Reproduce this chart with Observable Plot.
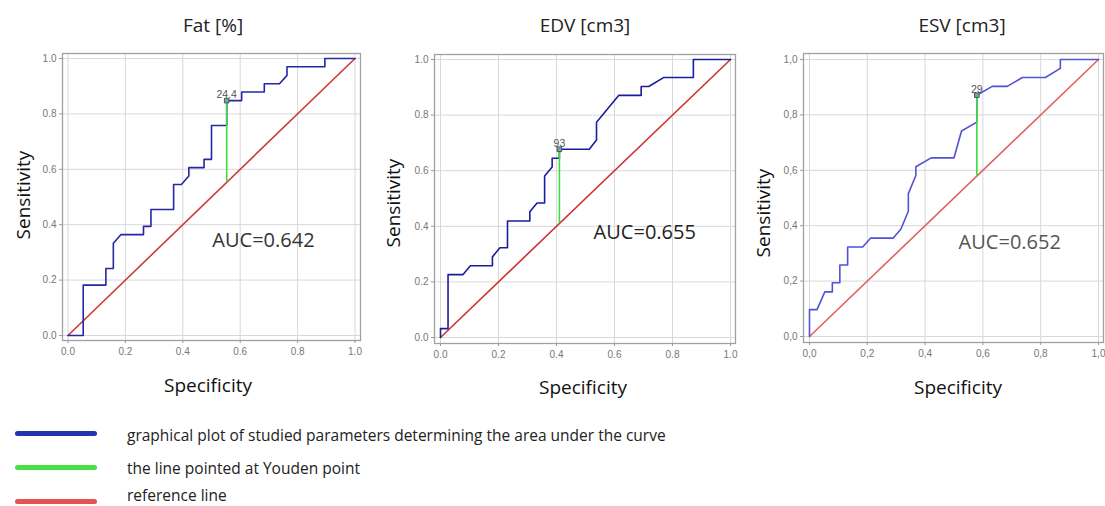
<!DOCTYPE html>
<html>
<head>
<meta charset="utf-8">
<script src="https://cdn.jsdelivr.net/npm/d3@7"></script>
<script src="https://cdn.jsdelivr.net/npm/@observablehq/plot@0.6"></script>
<style>
  html, body { margin: 0; padding: 0; background: #fff; }
  #root { position: relative; width: 1105px; height: 506px; overflow: hidden; background: #fff; font-family: "Open Sans", sans-serif; }
  .panel { position: absolute; top: 40px; }
  .title { position: absolute; transform: translate(-50%, -50%); font-size: 19px; color: #222; white-space: nowrap; }
  .xlab { position: absolute; transform: translate(-50%, -50%); font-size: 19px; color: #111; white-space: nowrap; }
  .ylab { position: absolute; transform: translate(-50%, -50%) rotate(-90deg); font-size: 19px; color: #111; white-space: nowrap; }
  .leg-line { position: absolute; left: 15px; width: 82px; height: 5px; border-radius: 3px; }
  .leg-text { position: absolute; left: 127px; transform: translateY(-50%); font-size: 15.5px; line-height: 18px; color: #222; white-space: nowrap; }
</style>
</head>
<body>
<div id="root"></div>
<script>
// ---- data ----
const panelTitles = ["Fat [%]", "EDV [cm3]", "ESV [cm3]"];
const aucLabels = ["AUC=0.642", "AUC=0.655", "AUC=0.652"];
const xAxisTitle = "Specificity";
const yAxisTitle = "Sensitivity";
const tickValues = [0, 0.2, 0.4, 0.6, 0.8, 1.0];

const fatSpec = [0, 0.053, 0.053, 0.132, 0.132, 0.158, 0.158, 0.184, 0.263, 0.263, 0.289, 0.289, 0.368, 0.368, 0.395, 0.421, 0.421, 0.474, 0.474, 0.5, 0.5, 0.553, 0.553, 0.605, 0.605, 0.684, 0.684, 0.737, 0.763, 0.763, 0.895, 0.895, 1];
const fatSens = [0, 0, 0.182, 0.182, 0.242, 0.242, 0.333, 0.364, 0.364, 0.394, 0.394, 0.455, 0.455, 0.545, 0.545, 0.576, 0.606, 0.606, 0.636, 0.636, 0.758, 0.758, 0.848, 0.848, 0.879, 0.879, 0.909, 0.909, 0.939, 0.970, 0.970, 1, 1];

const edvSpec = [0, 0, 0.026, 0.026, 0.077, 0.103, 0.179, 0.179, 0.205, 0.231, 0.231, 0.308, 0.308, 0.333, 0.359, 0.359, 0.385, 0.385, 0.410, 0.410, 0.513, 0.538, 0.538, 0.615, 0.692, 0.692, 0.718, 0.769, 0.872, 0.872, 1];
const edvSens = [0, 0.032, 0.032, 0.226, 0.226, 0.258, 0.258, 0.290, 0.323, 0.323, 0.419, 0.419, 0.452, 0.484, 0.484, 0.581, 0.613, 0.645, 0.645, 0.677, 0.677, 0.710, 0.774, 0.871, 0.871, 0.903, 0.903, 0.935, 0.935, 1, 1];

const esvSpec = [0, 0, 0.026, 0.053, 0.079, 0.079, 0.105, 0.105, 0.132, 0.132, 0.184, 0.211, 0.289, 0.316, 0.342, 0.342, 0.368, 0.368, 0.421, 0.5, 0.526, 0.579, 0.579, 0.632, 0.684, 0.737, 0.816, 0.868, 0.868, 1];
const esvSens = [0, 0.097, 0.097, 0.161, 0.161, 0.194, 0.194, 0.258, 0.258, 0.323, 0.323, 0.355, 0.355, 0.387, 0.452, 0.516, 0.581, 0.613, 0.645, 0.645, 0.742, 0.774, 0.871, 0.903, 0.903, 0.935, 0.935, 0.968, 1, 1];

const youdenSpec = [0.553, 0.410, 0.579];
const youdenSens = [0.848, 0.677, 0.871];
const youdenCut = ["24.4", "93", "29"];

const refSpec = [0, 1];
const refSens = [0, 1];

const legendLabels = [
  "graphical plot of studied parameters determining the area under the curve",
  "the line pointed at Youden point",
  "reference line"
];

// ---- layout / styles ----
const layouts = [
  {left: 0,   width: 370, mL: 62, mR: 10, mT: 13, mB: 60, iL: 5.5, iR: 5.5, iT: 5, iB: 5,
   curve: "#2626a6", ref: "#cc3b3b", text: "#333", dec: ".", aucX: 0.503, aucY: 0.343,
   title: [213, 25], xlab: [208, 385], ylab: [23, 195]},
  {left: 370, width: 370, mL: 64, mR: 5,  mT: 14, mB: 57, iL: 6, iR: 5, iT: 5, iB: 6,
   curve: "#1c1c9e", ref: "#cc3333", text: "#222", dec: ".", aucX: 0.528, aucY: 0.377,
   title: [585, 25], xlab: [583, 387], ylab: [393, 203]},
  {left: 740, width: 365, mL: 63, mR: 2,  mT: 13, mB: 58, iL: 6, iR: 5, iT: 6, iB: 6,
   curve: "#5252d6", ref: "#e06262", text: "#555", dec: ",", aucX: 0.516, aucY: 0.339,
   title: [962, 25], xlab: [958, 387], ylab: [763, 213]}
];

const curves = [[fatSpec, fatSens], [edvSpec, edvSens], [esvSpec, esvSens]];
const root = document.getElementById("root");

curves.forEach(([xs, ys], i) => {
  const L = layouts[i];
  const pts = xs.map((x, j) => ({x, y: ys[j]}));
  const ref = refSpec.map((x, j) => ({x, y: refSens[j]}));
  const yd = [{x: youdenSpec[i], y: youdenSens[i], r: youdenSpec[i], label: youdenCut[i]}];
  const fmt = d => d3.format(".1f")(d).replace(".", L.dec);
  const chart = Plot.plot({
    width: L.width, height: 360,
    marginLeft: L.mL, marginRight: L.mR, marginTop: L.mT, marginBottom: L.mB,
    x: {domain: [0, 1], insetLeft: L.iL, insetRight: L.iR},
    y: {domain: [0, 1], insetTop: L.iT, insetBottom: L.iB},
    style: {fontFamily: "Liberation Sans, Arial, sans-serif", fontSize: "10px", color: "#777", background: "transparent"},
    marks: [
      Plot.gridX(tickValues, {stroke: "#d8d8d8", strokeOpacity: 1}),
      Plot.gridY(tickValues, {stroke: "#d8d8d8", strokeOpacity: 1}),
      Plot.frame({stroke: "#a0a0a0", strokeWidth: 1.3}),
      Plot.axisX(tickValues, {tickSize: 3, tickPadding: 4, tickFormat: fmt, label: null, stroke: "#999"}),
      Plot.axisY(tickValues, {tickSize: 3, tickPadding: 3, tickFormat: fmt, label: null, stroke: "#999"}),
      Plot.line(ref, {x: "x", y: "y", stroke: L.ref, strokeWidth: 1.6}),
      Plot.line(pts, {x: "x", y: "y", stroke: L.curve, strokeWidth: 1.6, curve: "linear"}),
      Plot.ruleX(yd, {x: "x", y1: "r", y2: "y", stroke: "#3ddc3d", strokeWidth: 1.6}),
      Plot.dot(yd, {x: "x", y: "y", symbol: "square", r: 2.6, stroke: "#3b5b6b", fill: "#7aa68a", strokeWidth: 1}),
      Plot.text(yd, {x: "x", y: "y", text: "label", dy: -6, fill: "#555", fontSize: 10.5}),
      Plot.text([aucLabels[i]], {x: L.aucX, y: L.aucY, text: d => d, textAnchor: "start", fill: L.text, fontSize: 20, fontFamily: "Open Sans, sans-serif"})
    ]
  });
  chart.classList.add("panel");
  chart.style.left = L.left + "px";
  root.appendChild(chart);

  const t = document.createElement("div");
  t.className = "title"; t.textContent = panelTitles[i];
  t.style.left = L.title[0] + "px"; t.style.top = L.title[1] + "px";
  root.appendChild(t);
  const xl = document.createElement("div");
  xl.className = "xlab"; xl.textContent = xAxisTitle;
  xl.style.left = L.xlab[0] + "px"; xl.style.top = L.xlab[1] + "px";
  root.appendChild(xl);
  const yl = document.createElement("div");
  yl.className = "ylab"; yl.textContent = yAxisTitle;
  yl.style.left = L.ylab[0] + "px"; yl.style.top = L.ylab[1] + "px";
  root.appendChild(yl);
});

// legend
const legendColors = ["#2133b0", "#45e045", "#e25454"];
const legendLineY = [433, 467, 501];
const legendTextY = [435, 468, 495];
legendLabels.forEach((lab, i) => {
  const ln = document.createElement("div");
  ln.className = "leg-line"; ln.style.background = legendColors[i];
  ln.style.top = (legendLineY[i] - 2.5) + "px";
  root.appendChild(ln);
  const tx = document.createElement("div");
  tx.className = "leg-text"; tx.textContent = lab;
  tx.style.top = legendTextY[i] + "px";
  root.appendChild(tx);
});
</script>
</body>
</html>
